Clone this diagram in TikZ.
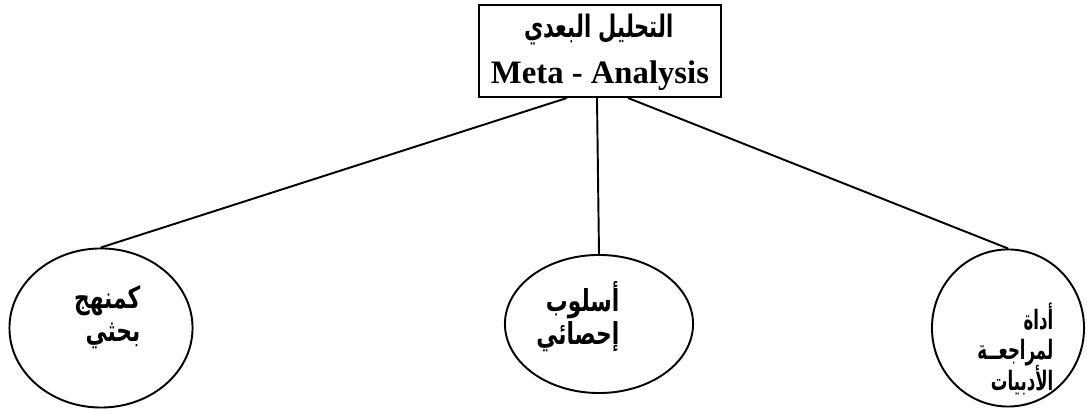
\documentclass[tikz,border=0pt]{standalone}
\usepackage{fontspec}
\setmainfont{Liberation Serif}
\newfontfamily\arabicT[Script=Arabic,FakeStretch=0.68]{DejaVu Sans}
\newfontfamily\arabicA[Script=Arabic,FakeStretch=0.72]{DejaVu Sans}
\newfontfamily\arabicB[Script=Arabic,FakeStretch=0.62]{DejaVu Sans}
\TeXXeTstate=1
\lineskiplimit=-100pt\relax
\usetikzlibrary{shapes.geometric,calc}
\begin{document}
\begin{tikzpicture}[x=0.01cm,y=-0.01cm,
  line/.style={line width=0.55pt,black},
  topbox/.style={draw,line width=0.55pt,rectangle,minimum width=2.41cm,minimum height=0.92cm,inner sep=0pt},
  oval/.style={draw,line width=0.55pt,ellipse,inner sep=0pt},
  artext/.style={align=right,inner sep=0pt,font=\arabicA\bfseries\fontsize{8.6}{9.4}\selectfont},
  artextsmall/.style={align=right,inner sep=0pt,font=\arabicB\bfseries\fontsize{7.6}{8.8}\selectfont}]
\useasboundingbox (0,0) rectangle (1087,413);
\node[topbox] (box) at (600,51) {};
\node[inner sep=0pt,font=\arabicT\bfseries\fontsize{8.8}{11}\selectfont] (t1) at (599,30) {\beginR التحليل البعدي\endR};
\node[inner sep=0pt,font=\bfseries\fontsize{9.3}{11}\selectfont] (t2) at (600,76) {Meta - Analysis};
\node[oval,minimum width=1.83cm,minimum height=1.59cm] (e1) at (101,328) {};
\node[oval,minimum width=1.88cm,minimum height=1.38cm] (e2) at (599,324) {};
\node[oval,minimum width=1.52cm,minimum height=1.57cm] (e3) at (1008,328) {};
\node[artext,anchor=east] (l1) at (141,317) {\beginR كمنهج\endR\\\beginR بحثي\endR};
\node[artext,anchor=east] (l2) at (620,317) {\beginR أسلوب\endR\\\beginR إحصائي\endR};
\node[artextsmall,anchor=east] (l3) at (1054,349) {\beginR أداة\endR\\\beginR لمراجعــة\endR\\\beginR الأدبيات\endR};
\draw[line] ($(box.south)+(-33,0)$) -- (e1.north);
\draw[line] ($(box.south)+(-3,0)$) -- (e2.north);
\draw[line] ($(box.south)+(28,0)$) -- (e3.north);
\end{tikzpicture}
\end{document}
